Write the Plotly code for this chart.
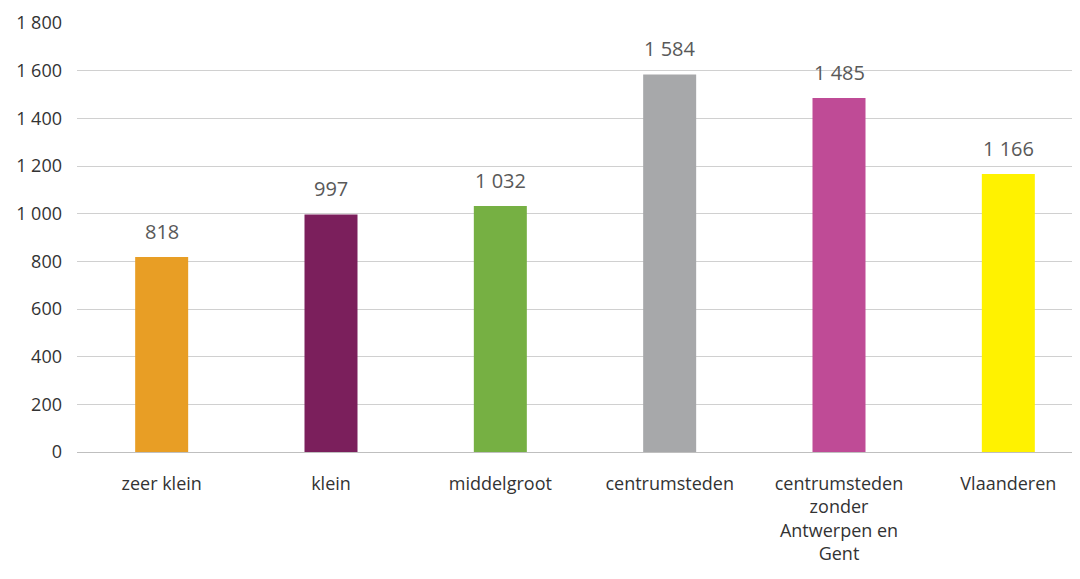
import plotly.graph_objects as go

categories = ["zeer klein", "klein", "middelgroot", "centrumsteden",
              "centrumsteden<br>zonder<br>Antwerpen en<br>Gent", "Vlaanderen"]
values = [818, 997, 1032, 1584, 1485, 1166]
colors = ["#E89E25", "#7B1F5C", "#76B043", "#A7A8AA", "#BF4B96", "#FFF200"]
y_ticks = [0, 200, 400, 600, 800, 1000, 1200, 1400, 1600, 1800]

font_family = "Open Sans, Lato, sans-serif"

fig = go.Figure()
fig.add_trace(go.Bar(
    x=categories, y=values, marker=dict(color=colors, line=dict(width=0)),
    hoverinfo="skip", showlegend=False,
))

for c, v in zip(categories, values):
    fig.add_annotation(
        x=c, y=v, text=f"{v:,}".replace(",", " "), showarrow=False,
        yanchor="bottom", yshift=10,
        font=dict(family=font_family, size=20, color="#595959"),
    )

fig.update_layout(
    width=1085, height=579,
    margin=dict(l=69, r=0, t=15, b=135),
    plot_bgcolor="white", paper_bgcolor="white",
    bargap=0.687,
    separators=", ",
    font=dict(family=font_family, size=18, color="#333333"),
)
fig.update_xaxes(
    showgrid=False, showline=False, ticks="", automargin=False,
    tickfont=dict(family=font_family, size=18, color="#333333"),
    ticklabelstandoff=19,
)
fig.update_yaxes(
    range=[0, 1800], tickvals=y_ticks, tickformat=",d", automargin=False,
    showgrid=True, gridcolor="#D0D0D0", gridwidth=1,
    zeroline=True, zerolinecolor="#BFBFBF", zerolinewidth=1,
    showline=False, ticks="", ticklabelstandoff=14,
    tickfont=dict(family=font_family, size=18, color="#333333"),
)

fig.write_html("out.html")
